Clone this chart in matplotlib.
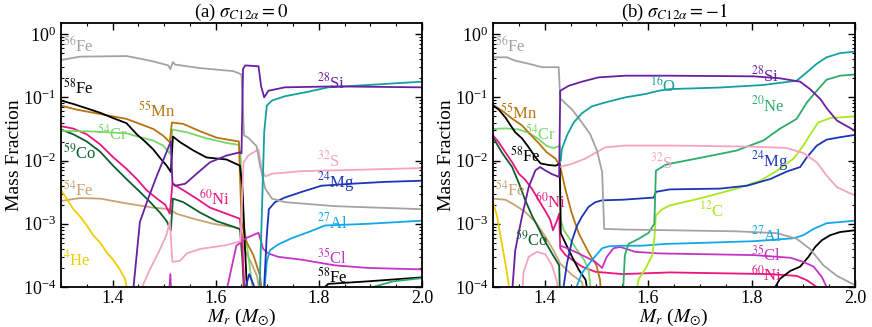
import matplotlib
matplotlib.use("Agg")
import matplotlib.pyplot as plt
from matplotlib.ticker import MultipleLocator

plt.rcParams['font.family'] = ['Liberation Serif', 'DejaVu Serif']
plt.rcParams['mathtext.fontset'] = 'stix'

# colours of the species
c_fe56 = '#a3a3a3'
c_fe58 = '#000000'
c_mn55 = '#b8730f'
c_cr54 = '#7ad66a'
c_co59 = '#0b5f2c'
c_ni60 = '#e8157f'
c_fe54 = '#c9a272'
c_he4 = '#f0cc00'
c_si28 = '#6a1fa0'
c_o16 = '#14a0a0'
c_s32 = '#f5a3c3'
c_mg24 = '#1a35b8'
c_al27 = '#12a8e8'
c_cl35 = '#c434c4'
c_ne20 = '#30aa6a'
c_c12 = '#a8e820'

# ---------------- panel (a): sigma = 0 ----------------
a_he4_m = [1.30, 1.311, 1.324, 1.337, 1.350, 1.363, 1.376, 1.389, 1.401, 1.414, 1.424, 1.434]
a_he4_x = [3.4e-3, 2.5e-3, 1.7e-3, 1.3e-3, 9.4e-4, 6.5e-4, 5.0e-4, 3.5e-4, 2.7e-4, 1.9e-4, 1.35e-4, 5e-5]

a_fe56_m = [1.30, 1.337, 1.427, 1.453, 1.479, 1.508, 1.512, 1.517, 1.521, 1.570, 1.634, 1.650, 1.655, 1.663,
            1.679, 1.686, 1.696, 1.709, 1.734, 1.831, 2.0]
a_fe56_x = [0.39, 0.44, 0.45, 0.41, 0.37, 0.32, 0.28, 0.36, 0.33, 0.29, 0.26, 0.23, 0.025, 0.023,
            0.017, 8.3e-3, 3.6e-3, 2.5e-3, 2.2e-3, 1.9e-3, 1.7e-3]

a_fe58_m = [1.30, 1.324, 1.350, 1.376, 1.401, 1.427, 1.447, 1.463, 1.479, 1.492, 1.505, 1.513, 1.517, 1.531,
            1.557, 1.582, 1.621, 1.647, 1.652, 1.656, 1.662]
a_fe58_x = [0.089, 0.0785, 0.067, 0.057, 0.047, 0.039, 0.026, 0.020, 0.015, 0.011, 8.3e-3, 6.6e-3, 0.024, 0.0195,
            0.0144, 0.0112, 0.0104, 8.3e-3, 3.6e-3, 5.8e-4, 5e-5]
a_fe58b_m = [1.80, 1.818, 1.896, 2.0]
a_fe58b_x = [8e-5, 1.12e-4, 1.23e-4, 1.42e-4]

a_mn55_m = [1.30, 1.330, 1.363, 1.395, 1.427, 1.453, 1.479, 1.498, 1.511, 1.515, 1.537, 1.570, 1.602, 1.645,
            1.650, 1.660, 1.673, 1.686, 1.692]
a_mn55_x = [0.074, 0.064, 0.057, 0.051, 0.0456, 0.038, 0.0316, 0.0248, 0.0195, 0.040, 0.038, 0.029, 0.023, 0.020,
            1.07e-3, 5.1e-4, 3.2e-4, 1.5e-4, 5e-5]

a_cr54_m = [1.30, 1.363, 1.427, 1.453, 1.479, 1.498, 1.511, 1.516, 1.544, 1.582, 1.621, 1.645, 1.648, 1.654,
            1.663, 1.676]
a_cr54_x = [0.0296, 0.0288, 0.027, 0.0234, 0.0207, 0.0173, 0.0128, 0.031, 0.028, 0.0225, 0.019, 0.0177, 0.012, 1.07e-3,
            3.2e-4, 5e-5]

a_ni60_m = [1.30, 1.324, 1.350, 1.376, 1.401, 1.427, 1.447, 1.466, 1.486, 1.502, 1.511, 1.516, 1.537, 1.563,
            1.589, 1.621, 1.647, 1.652, 1.657]
a_ni60_x = [0.035, 0.032, 0.026, 0.018, 0.0113, 7.4e-3, 5.1e-3, 3.4e-3, 2.5e-3, 2.0e-3, 1.44e-3, 4.3e-3, 3.4e-3, 2.5e-3,
            1.8e-3, 1.44e-3, 1.2e-3, 4.0e-4, 5e-5]

a_co59_m = [1.30, 1.324, 1.350, 1.376, 1.401, 1.427, 1.453, 1.473, 1.492, 1.505, 1.513, 1.517, 1.537, 1.570,
            1.602, 1.647, 1.652, 1.656]
a_co59_x = [0.031, 0.026, 0.020, 0.0138, 8.3e-3, 5.1e-3, 3.2e-3, 2.2e-3, 1.5e-3, 1.1e-3, 7.9e-4, 2.5e-3, 2.2e-3, 1.5e-3,
            1.1e-3, 8.3e-4, 2.5e-4, 5e-5]

a_fe54_m = [1.30, 1.337, 1.376, 1.427, 1.479, 1.511, 1.524, 1.557, 1.595, 1.634, 1.650, 1.655, 1.668, 1.680, 1.690]
a_fe54_x = [2.3e-3, 2.55e-3, 2.5e-3, 2.1e-3, 1.8e-3, 1.7e-3, 1.44e-3, 1.2e-3, 1.0e-3, 8.9e-4, 7.9e-4, 4e-4, 2.5e-4,
            1.5e-4, 5e-5]

a_si28_m = [1.437, 1.453, 1.469, 1.486, 1.498, 1.508, 1.513, 1.516, 1.521, 1.541, 1.563, 1.589, 1.621, 1.647,
            1.650, 1.653, 1.657, 1.683, 1.688, 1.694, 1.702, 1.734, 1.831, 2.0]
a_si28_x = [5e-5, 1.07e-3, 2.5e-3, 5.8e-3, 1e-2, 0.016, 0.02, 4.5e-3, 4.0e-3, 4.3e-3, 6.2e-3, 9.4e-3, 0.012, 0.0135,
            0.013, 0.28, 0.32, 0.31, 0.15, 0.1, 0.127, 0.144, 0.149, 0.144]

a_o16_m = [1.684, 1.689, 1.694, 1.699, 1.709, 1.734, 1.780, 1.818, 1.896, 2.0]
a_o16_x = [5e-5, 1.07e-3, 0.028, 0.074, 0.089, 0.104, 0.123, 0.144, 0.157, 0.177]

a_s32_m = [1.452, 1.473, 1.489, 1.504, 1.511, 1.516, 1.531, 1.544, 1.570, 1.621, 1.648, 1.654, 1.663, 1.683,
           1.689, 1.696, 1.709, 1.767, 2.0]
a_s32_x = [8e-5, 1.95e-4, 3.5e-4, 6.5e-4, 1.07e-3, 2.5e-4, 2.6e-4, 3.4e-4, 4.0e-4, 4.6e-4, 5.3e-4, 9.4e-3, 0.012, 0.015,
           7.4e-3, 5.6e-3, 6.2e-3, 6.8e-3, 7.6e-3]

a_mg24_m = [1.655, 1.665, 1.675, 1.692, 1.699, 1.703, 1.715, 1.734, 1.767, 1.805, 1.864, 1.928, 2.0]
a_mg24_x = [8e-5, 1.6e-4, 1.0e-4, 5e-5, 6.5e-4, 1.7e-3, 2.2e-3, 2.6e-3, 3.2e-3, 4.0e-3, 4.3e-3, 4.6e-3, 4.8e-3]

a_al27_m = [1.694, 1.699, 1.705, 1.721, 1.747, 1.780, 1.812, 1.896, 2.0]
a_al27_x = [8e-5, 2.5e-4, 3.8e-4, 4.7e-4, 5.9e-4, 7.4e-4, 9.4e-4, 1.0e-3, 1.12e-3]

a_cl35_m = [1.62, 1.64, 1.66, 1.683, 1.692, 1.702, 1.721, 1.767, 1.831, 1.896, 2.0]
a_cl35_x = [8e-5, 4.5e-4, 6.0e-4, 7.2e-4, 4.0e-4, 3.4e-4, 3.0e-4, 2.7e-4, 2.2e-4, 2.0e-4, 1.9e-4]
a_cl35b_m = [1.508, 1.512, 1.515]
a_cl35b_x = [5e-5, 1.6e-4, 5e-5]

a_ne20_m = [1.88, 1.905, 1.944, 2.0]
a_ne20_x = [7e-5, 1.0e-4, 1.23e-4, 1.38e-4]

# ---------------- panel (b): sigma = -1 ----------------
b_he4_m = [1.30, 1.308, 1.317, 1.324, 1.330, 1.333]
b_he4_x = [2.2e-3, 1.3e-3, 4.9e-4, 2.35e-4, 1.15e-4, 5e-5]

b_fe56_m = [1.30, 1.327, 1.343, 1.369, 1.395, 1.427, 1.430, 1.453, 1.472, 1.488, 1.501, 1.511, 1.515, 1.556,
            1.642, 1.771, 1.849, 1.887, 1.913, 1.939, 1.965, 2.0]
b_fe56_x = [0.43, 0.43, 0.38, 0.34, 0.30, 0.30, 0.096, 0.064, 0.040, 0.026, 0.0144, 6.6e-3, 8.3e-4, 8.1e-4,
            7.9e-4, 7.6e-4, 7.1e-4, 5.8e-4, 4.0e-4, 2.2e-4, 1.5e-4, 1.07e-4]

b_fe58_m = [1.30, 1.311, 1.324, 1.334, 1.343, 1.356, 1.369, 1.382, 1.392, 1.408, 1.421, 1.429, 1.431, 1.443,
            1.453, 1.466, 1.479, 1.488]
b_fe58_x = [0.074, 0.064, 0.048, 0.036, 0.028, 0.0225, 0.0162, 0.0113, 9.0e-3, 8.5e-3, 8.3e-3, 8.9e-3, 7.1e-4, 4.4e-4,
            3.0e-4, 1.87e-4, 1.3e-4, 5e-5]
b_fe58b_m = [1.83, 1.855, 1.875, 1.894, 1.910, 1.923, 1.936, 1.952, 1.971, 2.0]
b_fe58b_x = [6e-5, 1.35e-4, 1.8e-4, 2.1e-4, 3.0e-4, 4.3e-4, 5.5e-4, 6.6e-4, 7.4e-4, 7.9e-4]

b_mn55_m = [1.30, 1.317, 1.337, 1.356, 1.372, 1.388, 1.404, 1.421, 1.430, 1.440, 1.452, 1.466, 1.485, 1.500,
            1.507, 1.510]
b_mn55_x = [0.076, 0.062, 0.046, 0.036, 0.026, 0.019, 0.0135, 0.0107, 8e-3, 3.5e-3, 1.5e-3, 7e-4, 3.5e-4, 2.2e-4,
            1.3e-4, 5e-5]

b_cr54_m = [1.30, 1.324, 1.350, 1.369, 1.388, 1.404, 1.417, 1.429, 1.431, 1.437, 1.450, 1.463, 1.476, 1.485, 1.492]
b_cr54_x = [0.0316, 0.0323, 0.031, 0.0275, 0.022, 0.017, 0.0158, 0.017, 1.14e-3, 7.9e-4, 5.5e-4, 3.8e-4, 2.7e-4,
            1.86e-4, 5e-5]

b_co59_m = [1.30, 1.317, 1.337, 1.350, 1.362, 1.375, 1.388, 1.401, 1.414, 1.428, 1.430]
b_co59_x = [0.0234, 0.0135, 7.9e-3, 4.4e-3, 2.4e-3, 1.37e-3, 8.5e-4, 5.2e-4, 3.4e-4, 2.2e-4, 5e-5]

b_ni60_m = [1.30, 1.311, 1.324, 1.337, 1.350, 1.362, 1.375, 1.388, 1.401, 1.411, 1.416, 1.424, 1.428, 1.430,
            1.440, 1.453, 1.472, 1.498, 1.550, 1.642, 1.836, 1.887, 1.907, 1.926, 1.932]
b_ni60_x = [0.025, 0.0195, 0.0135, 9.4e-3, 6.2e-3, 5.0e-3, 3.6e-3, 2.4e-3, 1.6e-3, 1.14e-3, 7.9e-4, 1.14e-3, 1.45e-3,
            4.1e-4, 3.2e-4, 2.7e-4, 2.1e-4, 1.74e-4, 1.6e-4, 1.7e-4, 1.6e-4, 1.5e-4, 1.28e-4, 1e-4, 5e-5]

b_fe54_m = [1.30, 1.324, 1.343, 1.362, 1.382, 1.401, 1.417, 1.430, 1.453, 1.472, 1.482]
b_fe54_x = [2.5e-3, 2.4e-3, 1.96e-3, 1.55e-3, 1.07e-3, 6.3e-4, 3.8e-4, 2.35e-4, 1.55e-4, 1.2e-4, 5e-5]

b_si28_m = [1.335, 1.343, 1.356, 1.369, 1.382, 1.391, 1.401, 1.414, 1.428, 1.430, 1.446, 1.472, 1.504, 1.556,
            1.642, 1.804, 1.855, 1.894, 1.913, 1.933, 1.946, 1.965, 2.0]
b_si28_x = [5e-5, 3.8e-4, 1.3e-3, 3.8e-3, 7.0e-3, 7.9e-3, 7.0e-3, 6.1e-3, 5.5e-3, 0.127, 0.152, 0.177, 0.207, 0.22,
            0.22, 0.215, 0.2, 0.177, 0.135, 0.094, 0.066, 0.043, 0.0296]

b_o16_m = [1.431, 1.433, 1.443, 1.456, 1.472, 1.491, 1.517, 1.556, 1.595, 1.620, 1.642, 1.739, 1.823, 1.887,
           1.907, 1.926, 1.945, 1.971, 2.0]
b_o16_x = [0.010, 0.015, 0.025, 0.040, 0.056, 0.072, 0.083, 0.1, 0.113, 0.127, 0.135, 0.143, 0.157, 0.183,
           0.25, 0.34, 0.43, 0.50, 0.53]

b_ne20_m = [1.550, 1.555, 1.562, 1.582, 1.601, 1.612, 1.615, 1.633, 1.642, 1.707, 1.771, 1.823, 1.855, 1.887,
            1.907, 1.926, 1.945, 1.971, 2.0]
b_ne20_x = [5e-5, 3.2e-4, 4.8e-4, 5.8e-4, 7.2e-4, 1.0e-3, 6.9e-3, 8.5e-3, 8.9e-3, 0.0113, 0.0144, 0.0208, 0.032,
            0.0455, 0.083, 0.127, 0.19, 0.22, 0.23]

b_s32a_m = [1.355, 1.359, 1.369, 1.385, 1.401, 1.414, 1.424, 1.428]
b_s32a_x = [5e-5, 1.7e-4, 3.0e-4, 3.6e-4, 3.3e-4, 2.2e-4, 1.2e-4, 5e-5]
b_s32_m = [1.431, 1.453, 1.479, 1.498, 1.517, 1.556, 1.642, 1.804, 1.868, 1.900, 1.926, 1.945, 1.965, 2.0]
b_s32_x = [8.0e-3, 8.9e-3, 0.0108, 0.0132, 0.0162, 0.0173, 0.0173, 0.0166, 0.0158, 0.0132, 9.4e-3, 5.8e-3,
           3.8e-3, 2.8e-3]

b_mg24_m = [1.431, 1.443, 1.453, 1.463, 1.472, 1.485, 1.498, 1.511, 1.550, 1.611, 1.615, 1.642, 1.739, 1.791,
            1.836, 1.868, 1.894, 1.907, 1.926, 1.945, 1.971, 2.0]
b_mg24_x = [5e-5, 2.35e-4, 5.5e-4, 9.5e-4, 1.3e-3, 1.86e-3, 2.2e-3, 2.35e-3, 2.4e-3, 2.6e-3, 3.2e-3, 3.5e-3,
            3.6e-3, 4.0e-3, 5.1e-3, 6.7e-3, 7.9e-3, 0.0113, 0.0172, 0.0214, 0.0234, 0.0255]

b_c12_m = [1.572, 1.582, 1.595, 1.608, 1.612, 1.615, 1.627, 1.642, 1.707, 1.771, 1.817, 1.849, 1.881, 1.900,
           1.916, 1.929, 1.952, 2.0]
b_c12_x = [5e-5, 1.35e-4, 1.95e-4, 3.2e-4, 5.8e-4, 1.35e-3, 1.7e-3, 1.95e-3, 2.6e-3, 3.6e-3, 4.8e-3, 6.9e-3,
           0.0107, 0.0172, 0.028, 0.040, 0.047, 0.050]

b_al27_m = [1.447, 1.472, 1.492, 1.511, 1.524, 1.550, 1.588, 1.633, 1.707, 1.804, 1.881, 1.900, 1.920, 1.945, 2.0]
b_al27_x = [5e-5, 1.66e-4, 2.7e-4, 4.1e-4, 4.4e-4, 4.5e-4, 4.5e-4, 4.8e-4, 5.0e-4, 5.3e-4, 5.9e-4, 6.6e-4,
            8.3e-4, 1.02e-3, 1.12e-3]

b_cl35_m = [1.430, 1.440, 1.459, 1.479, 1.498, 1.511, 1.520, 1.533, 1.546, 1.575, 1.620, 1.804, 1.875, 1.900,
            1.920, 1.936, 1.945, 1.950]
b_cl35_x = [4.5e-4, 4.2e-4, 3.6e-4, 3.0e-4, 2.5e-4, 2.0e-4, 3.0e-4, 4.1e-4, 4.3e-4, 3.6e-4, 3.4e-4, 3.2e-4,
            2.9e-4, 2.5e-4, 2.1e-4, 1.44e-4, 1e-4, 5e-5]

# labels: (text, m, X, colour)
a_labels = [(r'$^{56}$Fe', 1.303, 0.66, c_fe56), (r'$^{58}$Fe', 1.303, 0.14, c_fe58),
            (r'$^{55}$Mn', 1.449, 0.062, c_mn55), (r'$^{54}$Cr', 1.370, 0.027, c_cr54),
            (r'$^{59}$Co', 1.303, 0.0135, c_co59), (r'$^{60}$Ni', 1.568, 2.5e-3, c_ni60),
            (r'$^{54}$Fe', 1.303, 3.4e-3, c_fe54), (r'$^{4}$He', 1.303, 2.7e-4, c_he4),
            (r'$^{28}$Si', 1.797, 0.17, c_si28), (r'$^{32}$S', 1.797, 1.0e-2, c_s32),
            (r'$^{24}$Mg', 1.797, 4.6e-3, c_mg24), (r'$^{27}$Al', 1.797, 1.07e-3, c_al27),
            (r'$^{35}$Cl', 1.797, 2.9e-4, c_cl35), (r'$^{58}$Fe', 1.797, 1.45e-4, c_fe58)]
b_labels = [(r'$^{56}$Fe', 1.303, 0.66, c_fe56), (r'$^{55}$Mn', 1.313, 0.058, c_mn55),
            (r'$^{54}$Cr', 1.362, 0.027, c_cr54), (r'$^{58}$Fe', 1.333, 0.012, c_fe58),
            (r'$^{54}$Fe', 1.303, 3.4e-3, c_fe54), (r'$^{60}$Ni', 1.381, 2.2e-3, c_ni60),
            (r'$^{59}$Co', 1.342, 5.5e-4, c_co59), (r'$^{16}$O', 1.604, 0.155, c_o16),
            (r'$^{28}$Si', 1.798, 0.22, c_si28), (r'$^{20}$Ne', 1.798, 0.074, c_ne20),
            (r'$^{32}$S', 1.604, 9.4e-3, c_s32), (r'$^{24}$Mg', 1.798, 0.0100, c_mg24),
            (r'$^{12}$C', 1.699, 1.6e-3, c_c12), (r'$^{27}$Al', 1.798, 6.6e-4, c_al27),
            (r'$^{35}$Cl', 1.798, 3.2e-4, c_cl35), (r'$^{60}$Ni', 1.798, 1.55e-4, c_ni60)]

a_lines = [(a_fe54_m, a_fe54_x, c_fe54), (a_he4_m, a_he4_x, c_he4), (a_co59_m, a_co59_x, c_co59),
           (a_ni60_m, a_ni60_x, c_ni60), (a_cr54_m, a_cr54_x, c_cr54), (a_mn55_m, a_mn55_x, c_mn55),
           (a_fe58_m, a_fe58_x, c_fe58), (a_fe58b_m, a_fe58b_x, c_fe58), (a_ne20_m, a_ne20_x, c_ne20),
           (a_cl35_m, a_cl35_x, c_cl35), (a_cl35b_m, a_cl35b_x, c_cl35), (a_al27_m, a_al27_x, c_al27),
           (a_mg24_m, a_mg24_x, c_mg24), (a_s32_m, a_s32_x, c_s32), (a_fe56_m, a_fe56_x, c_fe56),
           (a_o16_m, a_o16_x, c_o16), (a_si28_m, a_si28_x, c_si28)]
b_lines = [(b_fe54_m, b_fe54_x, c_fe54), (b_he4_m, b_he4_x, c_he4), (b_s32a_m, b_s32a_x, c_s32),
           (b_co59_m, b_co59_x, c_co59), (b_ni60_m, b_ni60_x, c_ni60), (b_cr54_m, b_cr54_x, c_cr54),
           (b_mn55_m, b_mn55_x, c_mn55), (b_fe58_m, b_fe58_x, c_fe58), (b_fe58b_m, b_fe58b_x, c_fe58),
           (b_cl35_m, b_cl35_x, c_cl35), (b_al27_m, b_al27_x, c_al27), (b_c12_m, b_c12_x, c_c12),
           (b_mg24_m, b_mg24_x, c_mg24), (b_ne20_m, b_ne20_x, c_ne20), (b_s32_m, b_s32_x, c_s32),
           (b_fe56_m, b_fe56_x, c_fe56), (b_o16_m, b_o16_x, c_o16), (b_si28_m, b_si28_x, c_si28)]

fig = plt.figure(figsize=(8.72, 3.27), dpi=100)
ax1 = fig.add_axes([61 / 872, 1 - 287 / 327, 361 / 872, 264 / 327])
ax2 = fig.add_axes([493 / 872, 1 - 287 / 327, 362 / 872, 264 / 327])

for ax, lines, labels, title in [(ax1, a_lines, a_labels, r'(a) $\sigma_{C12\alpha}=0$'),
                                 (ax2, b_lines, b_labels, r'(b) $\sigma_{C12\alpha}=-1$')]:
    for m, x, c in lines:
        ax.plot(m, x, color=c, lw=1.3)
    for txt, m, x, c in labels:
        ax.text(m, x, txt, color=c, fontsize=12, ha='left', va='center')
    ax.set_yscale('log')
    ax.set_xlim(1.3, 2.0)
    ax.set_ylim(1e-4, 1.5)
    ax.xaxis.set_major_locator(MultipleLocator(0.2))
    ax.xaxis.set_minor_locator(MultipleLocator(0.05))
    ax.tick_params(which='both', direction='in', top=True, right=True, labelsize=13)
    ax.tick_params(axis='x', pad=2)
    ax.tick_params(which='major', length=5, width=1)
    ax.tick_params(which='minor', length=2.5, width=0.8)
    for s in ax.spines.values():
        s.set_linewidth(1.3)
    ax.set_xlabel(r'$M_r$ ($M_{\odot}$)', fontsize=14, labelpad=0)
    ax.set_ylabel('Mass Fraction', fontsize=14, labelpad=0)
    ax.set_title(title, fontsize=13.5, pad=3)

fig.savefig('out.png', dpi=100)
